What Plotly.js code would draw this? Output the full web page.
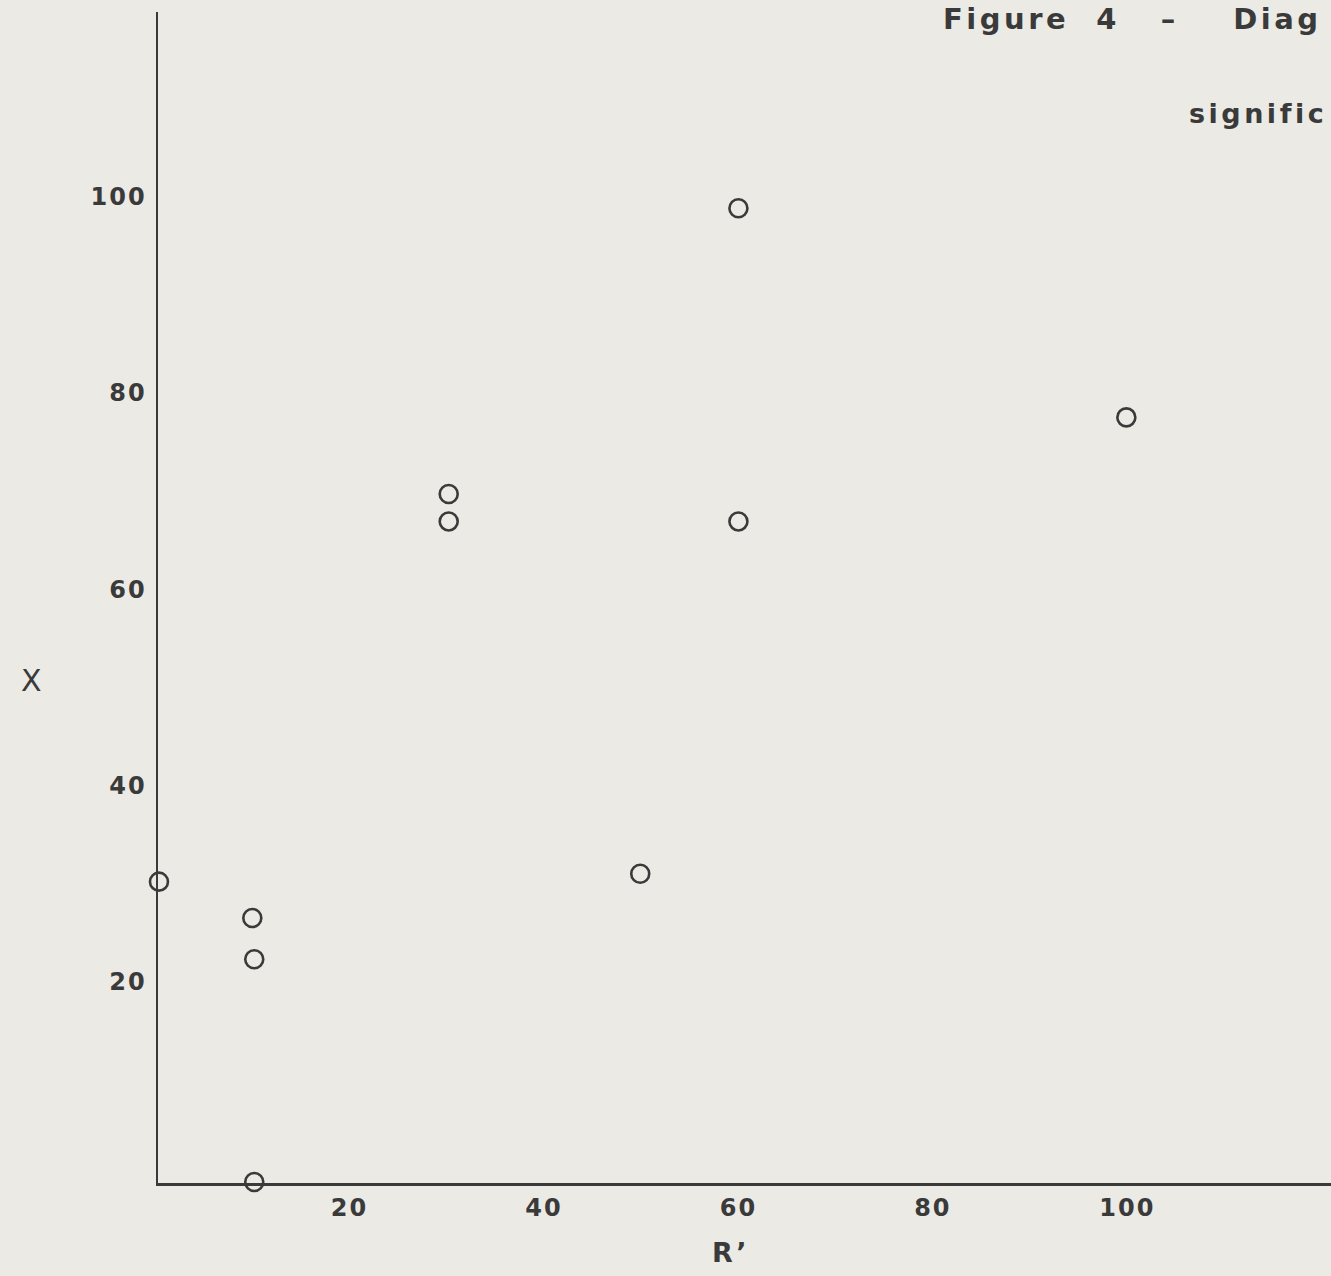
<!DOCTYPE html>
<html>
<head>
<meta charset="utf-8">
<script src="https://cdn.plot.ly/plotly-3.0.1.min.js"></script>
<style>
  html, body { margin: 0; padding: 0; background: #ebeae5; }
  #chart { width: 1331px; height: 1276px; }
  .xtick text, .ytick text { letter-spacing: 2px; }
  .annotation-text { letter-spacing: 3.5px; white-space: pre; }
</style>
</head>
<body>
<div id="chart"></div>
<script>
// Data
const rPrime = [0.4, 10.0, 10.2, 10.2, 30.2, 30.2, 49.9, 60.0, 60.0, 99.9];
const xVals  = [30.2, 26.5, 22.3, -0.4, 69.7, 66.9, 31.0, 98.8, 66.9, 77.5];
const xTickVals = [20, 40, 60, 80, 100];
const xTickText = ["20", "40", "60", "80", "100"];
const yTickVals = [20, 40, 60, 80, 100];
const yTickText = ["20", "40", "60", "80", "100"];
const titleLine1 = "Figure\u00a0\u00a04\u00a0\u00a0\u00a0\u2013\u00a0\u00a0\u00a0\u00a0Diag";
const titleLine2 = "signific";
const xAxisLabel = "R\u2019";
const yAxisLabel = "X";

const ink = "#3a3a3a";
const fontFam = "DejaVu Sans, sans-serif";

const trace = {
  type: "scatter",
  mode: "markers",
  x: rPrime,
  y: xVals,
  cliponaxis: false,
  marker: {
    symbol: "circle-open",
    size: 18,
    color: ink,
    line: { width: 2.6, color: ink }
  },
  hoverinfo: "x+y"
};

const layout = {
  width: 1331,
  height: 1276,
  paper_bgcolor: "#ebeae5",
  plot_bgcolor: "rgba(0,0,0,0)",
  margin: { l: 158, r: 0, t: 12, b: 93 },
  showlegend: false,
  xaxis: {
    range: [0.3, 120.95],
    tickvals: xTickVals,
    ticktext: xTickText,
    showgrid: false,
    zeroline: false,
    showline: true,
    linecolor: ink,
    linewidth: 2.5,
    ticks: "",
    ticklabelstandoff: 2,
    tickfont: { family: fontFam, size: 24, color: ink, weight: "bold" }
  },
  yaxis: {
    range: [-0.5, 118.8],
    tickvals: yTickVals,
    ticktext: yTickText,
    showgrid: false,
    zeroline: false,
    showline: true,
    linecolor: ink,
    linewidth: 2.5,
    ticks: "",
    ticklabelstandoff: 4,
    tickfont: { family: fontFam, size: 24, color: ink, weight: "bold" }
  },
  annotations: [
    { text: titleLine1, xref: "paper", yref: "paper", x: 0, y: 0, showarrow: false,
      xanchor: "left", yanchor: "middle",
      font: { family: fontFam, size: 29, color: ink, weight: "bold" } },
    { text: titleLine2, xref: "paper", yref: "paper", x: 0, y: 0, showarrow: false,
      xanchor: "left", yanchor: "middle",
      font: { family: fontFam, size: 27, color: ink, weight: "bold" } },
    { text: yAxisLabel, xref: "paper", yref: "paper", x: 0, y: 0, showarrow: false,
      xanchor: "center", yanchor: "middle",
      font: { family: fontFam, size: 30, color: ink } },
    { text: xAxisLabel, xref: "paper", yref: "paper", x: 0, y: 0, showarrow: false,
      xanchor: "center", yanchor: "middle",
      font: { family: fontFam, size: 27, color: ink, weight: "bold" } }
  ]
};

// Convert pixel positions of free text to paper coordinates
const W = 1331, H = 1276;
const pl = layout.margin.l, pr = layout.margin.r, pt = layout.margin.t, pb = layout.margin.b;
const pw = W - pl - pr, ph = H - pt - pb;
function px(x) { return (x - pl) / pw; }
function py(y) { return (H - pb - y) / ph; }
const pos = [[941, 19], [1187, 113], [33, 680], [731, 1252]];
layout.annotations.forEach((a, i) => { a.x = px(pos[i][0]); a.y = py(pos[i][1]); });

Plotly.newPlot("chart", [trace], layout, { displayModeBar: false, staticPlot: true });
</script>
</body>
</html>
